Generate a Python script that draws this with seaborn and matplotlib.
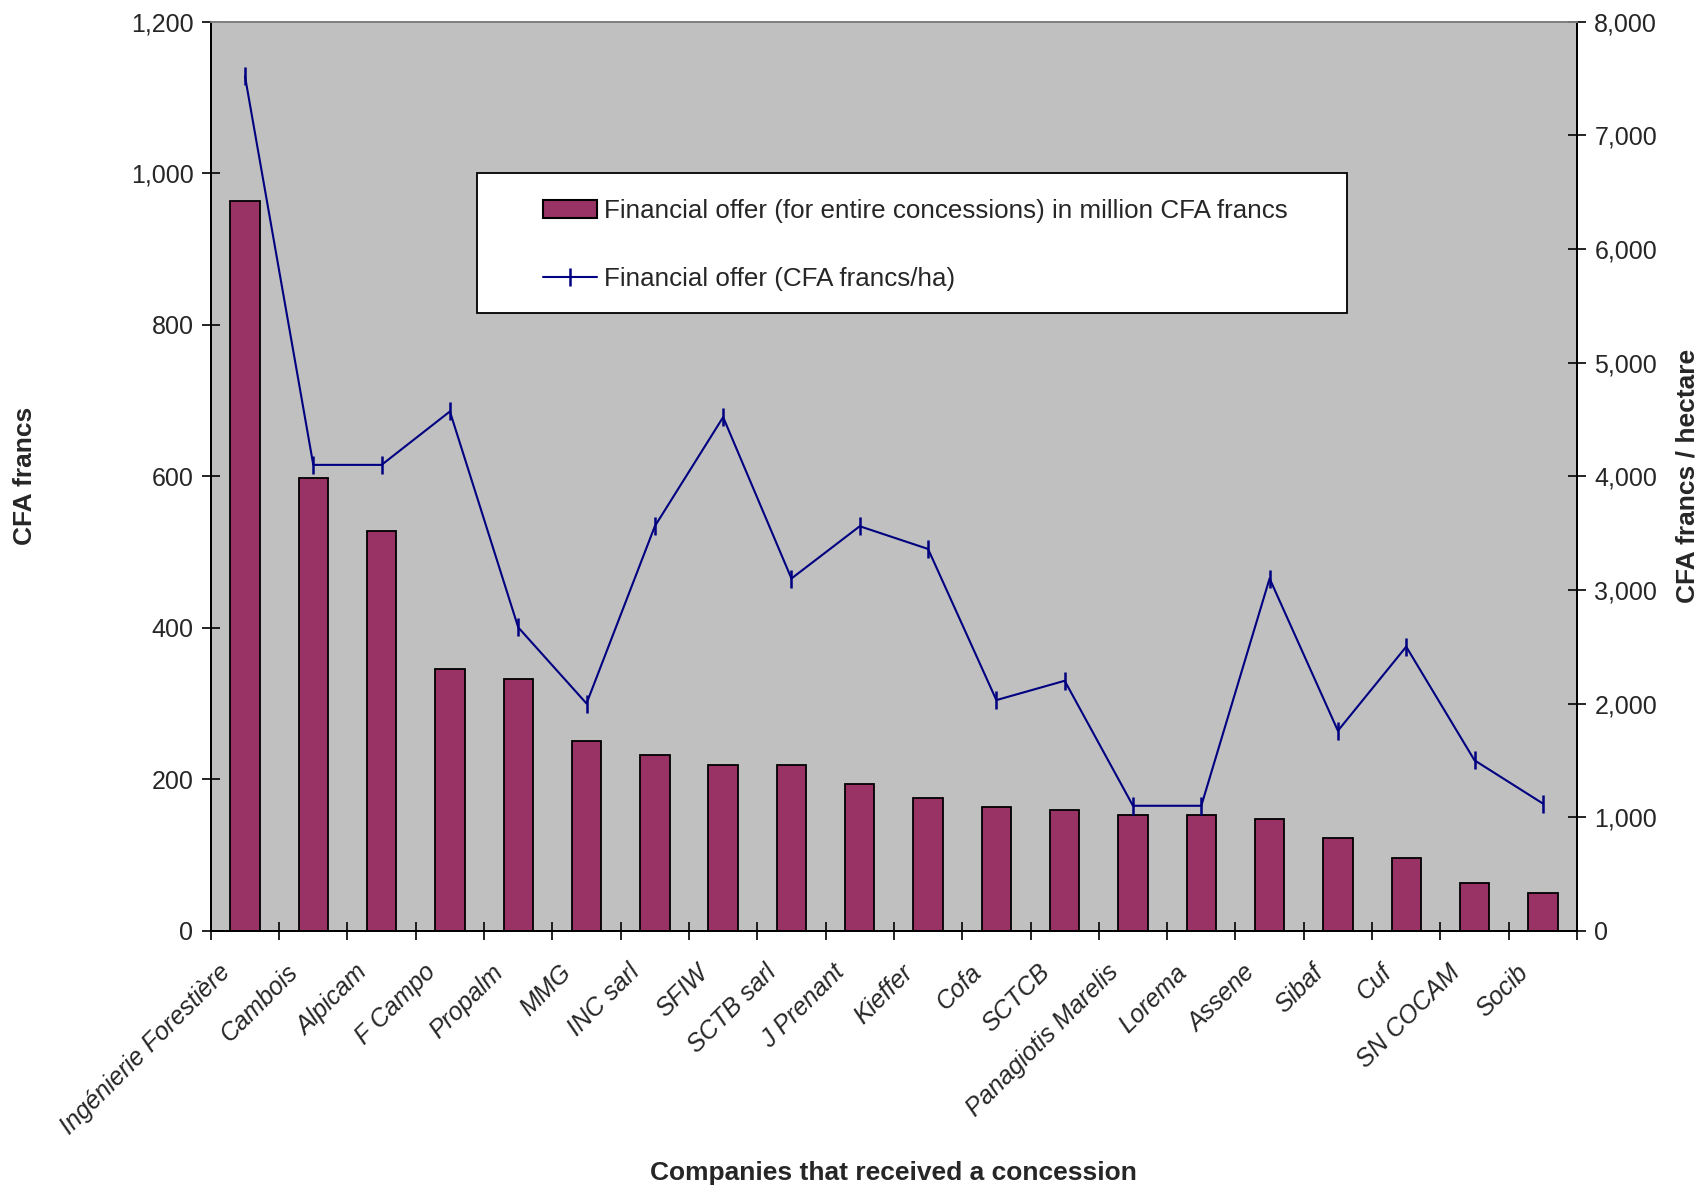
import numpy as np
import pandas as pd
import matplotlib
matplotlib.use("Agg")
import matplotlib.pyplot as plt
import matplotlib.transforms as mtransforms
import seaborn as sns
from matplotlib.patches import Rectangle, Patch
from matplotlib.lines import Line2D
from matplotlib.ticker import FuncFormatter, MultipleLocator, FixedLocator

companies = ["Ingénierie Forestière", "Cambois", "Alpicam", "F Campo", "Propalm", "MMG",
             "INC sarl", "SFIW", "SCTB sarl", "J Prenant", "Kieffer", "Cofa", "SCTCB",
             "Panagiotis Marelis", "Lorema", "Assene", "Sibaf", "Cuf", "SN COCAM", "Socib"]
offer_million = [963, 598, 528, 345, 333, 251, 232, 219, 219, 194, 175, 163, 159,
                 153, 153, 148, 122, 96, 63, 50]
offer_per_ha = [7520, 4100, 4100, 4570, 2670, 2000, 3560, 4520, 3100, 3560, 3360, 2030,
                2200, 1100, 1100, 3100, 1760, 2500, 1500, 1120]

bar_label = "Financial offer (for entire concessions) in million CFA francs"
line_label = "Financial offer (CFA francs/ha)"
x_title = "Companies that received a concession"
y_left_title = "CFA francs"
y_right_title = "CFA francs / hectare"

sns.set_style("ticks")
plt.rcParams["font.family"] = ["Liberation Sans", "DejaVu Sans"]

BAR_COLOR = "#993366"
LINE_COLOR = "#000080"

fig = plt.figure(figsize=(17.03, 11.86), dpi=100)
ax = fig.add_axes([0.1238, 0.2152, 0.8022, 0.7665])
ax.set_facecolor("#C0C0C0")

df = pd.DataFrame({"company": companies, "offer": offer_million})
sns.barplot(data=df, x="company", y="offer", ax=ax, color=BAR_COLOR,
            edgecolor="black", linewidth=1.3, width=0.43, saturation=1)

ax2 = ax.twinx()
pos = np.arange(len(companies))
sns.lineplot(x=pos, y=offer_per_ha, ax=ax2, color=LINE_COLOR, linewidth=1.5,
             marker="|", markersize=13, markeredgewidth=1.8, markeredgecolor=LINE_COLOR,
             sort=False, legend=False)

n = len(companies)
ax.set_xlim(-0.5, n - 0.5)
ax.set_ylim(0, 1200)
ax2.set_ylim(0, 8000)

fmt = FuncFormatter(lambda v, p: f"{int(v):,}")
ax.yaxis.set_major_locator(MultipleLocator(200))
ax.yaxis.set_major_formatter(fmt)
ax2.yaxis.set_major_locator(MultipleLocator(1000))
ax2.yaxis.set_major_formatter(fmt)

# x: major ticks at boundaries (no labels), minor at centers with labels
ax.xaxis.set_major_locator(FixedLocator(np.arange(-0.5, n, 1.0)))
ax.xaxis.set_major_formatter(FuncFormatter(lambda v, p: ""))
ax.set_xticks(pos, minor=True)
ax.set_xticklabels(companies, minor=True, rotation=45, ha="right",
                   rotation_mode="anchor", fontsize=18, style="italic")
ax.tick_params(axis="x", which="minor", length=0, pad=14)
ax.tick_params(axis="x", which="major", direction="inout", length=12.5, width=1.2,
               color="black")
ax.tick_params(axis="y", direction="inout", length=13, width=1.2, labelsize=18,
               color="black", pad=6)
ax2.tick_params(axis="y", direction="inout", length=13, width=1.2, labelsize=18,
                color="black", pad=6)

offset = mtransforms.ScaledTranslation(-0.27, -0.10, fig.dpi_scale_trans)
for lbl in ax.get_xticklabels(minor=True):
    lbl.set_transform(lbl.get_transform() + offset)

for a in (ax, ax2):
    for s in ("left", "right", "bottom"):
        a.spines[s].set_color("black")
        a.spines[s].set_linewidth(1.3)
    a.spines["top"].set_color("#808080")
    a.spines["top"].set_linewidth(1.3)

ax.set_xlabel(x_title, fontsize=19, fontweight="bold")
ax.xaxis.set_label_coords(0.5, -0.253)
ax.set_ylabel(y_left_title, fontsize=19, fontweight="bold")
ax.yaxis.set_label_coords(-0.127, 0.5)
ax2.set_ylabel(y_right_title, fontsize=19, fontweight="bold")
ax2.yaxis.set_label_coords(1.072, 0.5)

# legend box
rect = Rectangle((0.1947, 0.680), 0.637, 0.154, transform=ax2.transAxes,
                 facecolor="white", edgecolor="black", linewidth=1.3, zorder=5)
ax2.add_patch(rect)
handles = [Patch(facecolor=BAR_COLOR, edgecolor="black", linewidth=1.5),
           Line2D([], [], color=LINE_COLOR, marker="|", markersize=13,
                  markeredgewidth=1.8, linewidth=1.5)]
leg = ax2.legend(handles, [bar_label, line_label], loc="upper left",
                 bbox_to_anchor=(0.243, 0.805), bbox_transform=ax2.transAxes,
                 frameon=False, fontsize=18.7, borderpad=0, borderaxespad=0,
                 labelspacing=1.7, handlelength=2.08, handletextpad=0.27)
leg.set_zorder(6)

fig.savefig("out.png", dpi=100)
